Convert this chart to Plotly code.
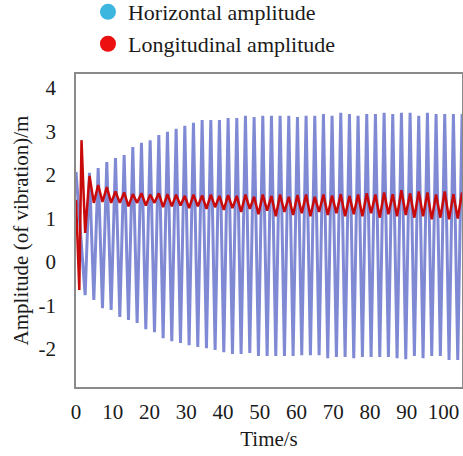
import plotly.graph_objects as go

# ---- data (time in s, amplitude in m) ----
trough_t = [2.49, 4.85, 7.20, 9.56, 11.92, 14.27, 16.63, 18.99, 21.35, 23.70, 26.06, 28.42, 30.77, 33.13,
            35.49, 37.84, 40.20, 42.56, 44.91, 47.27, 49.63, 51.99, 54.34, 56.70, 59.06, 61.41, 63.77, 66.13,
            68.48, 70.84, 73.20, 75.55, 77.91, 80.27, 82.63, 84.98, 87.34, 89.70, 92.05, 94.41, 96.77, 99.12,
            101.48, 103.84]
peak_t = [3.67, 6.03, 8.38, 10.74, 13.10, 15.45, 17.81, 20.17, 22.53, 24.88, 27.24, 29.60, 31.95, 34.31,
          36.67, 39.02, 41.38, 43.74, 46.09, 48.45, 50.81, 53.17, 55.52, 57.88, 60.24, 62.59, 64.95, 67.31,
          69.66, 72.02, 74.38, 76.73, 79.09, 81.45, 83.81, 86.16, 88.52, 90.88, 93.23, 95.59, 97.95, 100.30,
          102.66, 105.02]

horiz_start = 2.07
horiz_trough = [-0.76, -0.87, -1.06, -1.10, -1.26, -1.33, -1.40, -1.54, -1.61, -1.75, -1.82, -1.86, -1.91, -1.95,
                -1.98, -2.02, -2.07, -2.11, -2.11, -2.09, -2.16, -2.16, -2.16, -2.16, -2.16, -2.14, -2.14, -2.14,
                -2.21, -2.18, -2.18, -2.21, -2.18, -2.18, -2.18, -2.18, -2.21, -2.23, -2.16, -2.21, -2.16, -2.16,
                -2.25, -2.25]
horiz_peak = [2.05, 2.16, 2.30, 2.39, 2.46, 2.64, 2.74, 2.80, 2.92, 2.99, 3.06, 3.13, 3.20, 3.26,
              3.26, 3.26, 3.31, 3.31, 3.36, 3.33, 3.36, 3.36, 3.36, 3.36, 3.33, 3.36, 3.36, 3.40,
              3.36, 3.43, 3.40, 3.36, 3.40, 3.40, 3.43, 3.40, 3.43, 3.43, 3.36, 3.43, 3.40, 3.40,
              3.40, 3.40]

long_start_t = [0.0, 0.9, 1.5]
long_start = [1.43, -0.64, 2.80]
long_trough = [0.67, 1.36, 1.38, 1.36, 1.36, 1.28, 1.36, 1.30, 1.36, 1.26, 1.28, 1.30, 1.24, 1.28,
               1.22, 1.26, 1.20, 1.24, 1.15, 1.22, 1.10, 1.18, 1.05, 1.15, 1.08, 1.12, 1.05, 1.15,
               1.08, 1.12, 1.05, 1.10, 1.05, 1.12, 1.02, 1.10, 1.05, 1.08, 1.02, 1.05, 0.98, 1.02,
               0.98, 1.00]
long_peak = [1.98, 1.77, 1.72, 1.62, 1.60, 1.56, 1.58, 1.55, 1.58, 1.56, 1.55, 1.52, 1.55, 1.53,
             1.55, 1.52, 1.54, 1.52, 1.55, 1.50, 1.55, 1.52, 1.55, 1.50, 1.54, 1.55, 1.50, 1.55,
             1.53, 1.56, 1.52, 1.55, 1.58, 1.55, 1.60, 1.56, 1.65, 1.58, 1.62, 1.60, 1.55, 1.62,
             1.56, 1.60]

x_ticks = [0, 10, 20, 30, 40, 50, 60, 70, 80, 90, 100]
y_ticks = [4, 3, 2, 1, 0, -1, -2]
y_tick_labels = ["4", "3", "2", "1", "0", "-1", "-2"]

# ---- assemble series ----
t_ext, h_ext, l_ext = [], [], []
for tt, tp, ht, hp, lt, lp in zip(trough_t, peak_t, horiz_trough, horiz_peak, long_trough, long_peak):
    t_ext += [tt, tp]
    h_ext += [ht, hp]
    l_ext += [lt, lp]

t_h = [0.0] + t_ext
y_h = [horiz_start] + h_ext
t_l = long_start_t + t_ext
y_l = long_start + l_ext

FONT = "Liberation Serif, 'Times New Roman', Times, serif"
TXT = "#1a1a1a"

fig = go.Figure()
fig.add_trace(go.Scatter(x=t_h, y=y_h, mode="lines", showlegend=False,
                         line=dict(color="rgb(128,138,212)", width=3)))
fig.add_trace(go.Scatter(x=t_l, y=y_l, mode="lines", showlegend=False,
                         line=dict(color="rgb(200,10,10)", width=2.5)))
# legend entries
fig.add_trace(go.Scatter(x=[None], y=[None], mode="markers", name="Horizontal amplitude",
                         marker=dict(color="rgb(60,182,222)", size=16), legend="legend"))
fig.add_trace(go.Scatter(x=[None], y=[None], mode="markers", name="Longitudinal amplitude",
                         marker=dict(color="rgb(236,16,16)", size=16), legend="legend2"))

leg_common = dict(font=dict(family=FONT, size=22, color=TXT), bgcolor="rgba(0,0,0,0)",
                  xanchor="left", yanchor="middle", itemsizing="trace")

fig.update_layout(
    width=463, height=456,
    margin=dict(l=76, r=1, t=74, b=69, autoexpand=False),
    paper_bgcolor="white", plot_bgcolor="white",
    font=dict(family=FONT, size=21, color=TXT),
    legend=dict(x=0.031, y=1.198, **leg_common),
    legend2=dict(x=0.031, y=1.096, **leg_common),
    xaxis=dict(range=[0, 105], tickvals=x_ticks, showgrid=False, zeroline=False,
               showline=True, mirror=True, linecolor="#8a8a8a", linewidth=1.5,
               ticks="", ticklabelstandoff=5,
               tickfont=dict(family=FONT, size=21, color=TXT),
               title=dict(text="Time/s", font=dict(family=FONT, size=21, color=TXT), standoff=8)),
    yaxis=dict(range=[-2.87, 4.32], tickvals=y_ticks, ticktext=y_tick_labels,
               showgrid=False, zeroline=False,
               showline=True, mirror=True, linecolor="#8a8a8a", linewidth=1.5,
               ticks="", ticklabelstandoff=14,
               tickfont=dict(family=FONT, size=21, color=TXT),
               title=dict(text="Amplitude (of vibration)/m", font=dict(family=FONT, size=21, color=TXT),
                          standoff=4)),
)

fig.write_html("out.html")
